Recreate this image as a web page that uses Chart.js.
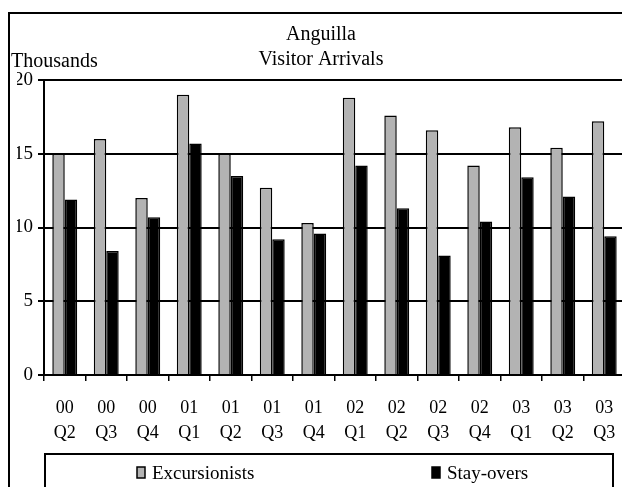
<!DOCTYPE html>
<html>
<head>
<meta charset="utf-8">
<title>Anguilla Visitor Arrivals</title>
<script src="https://cdn.jsdelivr.net/npm/chart.js@4"></script>
<style>
  html, body { margin: 0; padding: 0; background: #fff; overflow: hidden; }
  #wrap { position: absolute; left: 0; top: 0; width: 650px; height: 500px; }
</style>
</head>
<body>
<div id="wrap"><canvas id="c" width="650" height="500"></canvas></div>
<script>
// Quarterly visitor arrivals, thousands
const years = ['00', '00', '00', '01', '01', '01', '01', '02', '02', '02', '02', '03', '03', '03'];
const quarters = ['Q2', 'Q3', 'Q4', 'Q1', 'Q2', 'Q3', 'Q4', 'Q1', 'Q2', 'Q3', 'Q4', 'Q1', 'Q2', 'Q3'];
const excursionists = [15.0, 16.0, 12.0, 19.0, 15.0, 12.7, 10.3, 18.8, 17.6, 16.6, 14.2, 16.8, 15.4, 17.2];
const stayovers = [11.9, 8.4, 10.7, 15.7, 13.5, 9.2, 9.6, 14.2, 11.3, 8.1, 10.4, 13.4, 12.1, 9.4];
const yTicks = [0, 5, 10, 15, 20];
const titleLines = ['Anguilla', 'Visitor Arrivals'];
const unitLabel = 'Thousands';

const FONT = '"Liberation Serif", "Times New Roman", serif';
const labels = years.map((y, i) => [y, quarters[i]]);

// Outer frame, unit caption and boxed legend
const decorations = {
  id: 'decorations',
  beforeDraw(chart) {
    const ctx = chart.ctx;
    ctx.save();
    ctx.fillStyle = '#fff';
    ctx.fillRect(0, 0, chart.width, chart.height);
    ctx.restore();
  },
  afterDraw(chart) {
    const ctx = chart.ctx;
    const area = chart.chartArea;
    ctx.save();
    ctx.strokeStyle = '#000';
    ctx.lineWidth = 2;
    ctx.strokeRect(9, 13, 700, 600);

    ctx.fillStyle = '#000';
    ctx.font = '20px ' + FONT;
    ctx.textAlign = 'left';
    ctx.textBaseline = 'alphabetic';
    ctx.fillText(unitLabel, 11, area.top - 13);

    // legend box
    ctx.strokeRect(45, 454, 568, 80);
    ctx.font = '19px ' + FONT;
    const itemX = [137, 432];
    chart.data.datasets.forEach((ds, i) => {
      const x = itemX[i];
      ctx.fillStyle = ds.backgroundColor;
      ctx.fillRect(x, 467, 8, 11);
      ctx.lineWidth = 1.5;
      ctx.strokeStyle = '#000';
      ctx.strokeRect(x, 467, 8, 11);
      ctx.fillStyle = '#000';
      ctx.fillText(ds.label, x + 15, 479);
    });
    ctx.restore();
  }
};

new Chart(document.getElementById('c'), {
  type: 'bar',
  data: {
    labels: labels,
    datasets: [
      { label: 'Excursionists', data: excursionists, backgroundColor: '#b3b3b3', borderColor: '#000', borderWidth: 1.5 },
      { label: 'Stay-overs', data: stayovers, backgroundColor: '#000', borderColor: '#000', borderWidth: 1.5 }
    ]
  },
  options: {
    responsive: false,
    devicePixelRatio: 1,
    animation: false,
    layout: { padding: { left: 17, right: 25, top: 13, bottom: 45 } },
    datasets: { bar: { categoryPercentage: 0.6, barPercentage: 1.0 } },
    plugins: {
      legend: { display: false },
      tooltip: { enabled: false },
      title: {
        display: true,
        text: titleLines,
        color: '#000',
        font: { family: FONT, size: 20, weight: 'normal', lineHeight: 25 / 20 },
        padding: { top: 9, bottom: 8 }
      }
    },
    scales: {
      x: {
        grid: { display: true, drawOnChartArea: false, drawTicks: true, tickLength: 6, color: '#000', lineWidth: 1.5, offset: true },
        border: { display: true, color: '#000', width: 2 },
        ticks: { color: '#000', font: { family: FONT, size: 18, lineHeight: 25 / 18 }, padding: 15, maxRotation: 0, autoSkip: false },
        afterFit(scale) { scale.height = 80; }
      },
      y: {
        min: 0,
        max: 20,
        afterBuildTicks(scale) { scale.ticks = yTicks.map(v => ({ value: v })); },
        grid: { color: '#000', lineWidth: 2, drawTicks: true, tickLength: 6 },
        border: { display: true, color: '#000', width: 2 },
        ticks: { color: '#000', font: { family: FONT, size: 19 }, padding: 5 },
        afterFit(scale) { scale.width = 27; }
      }
    }
  },
  plugins: [decorations]
});
</script>
</body>
</html>
